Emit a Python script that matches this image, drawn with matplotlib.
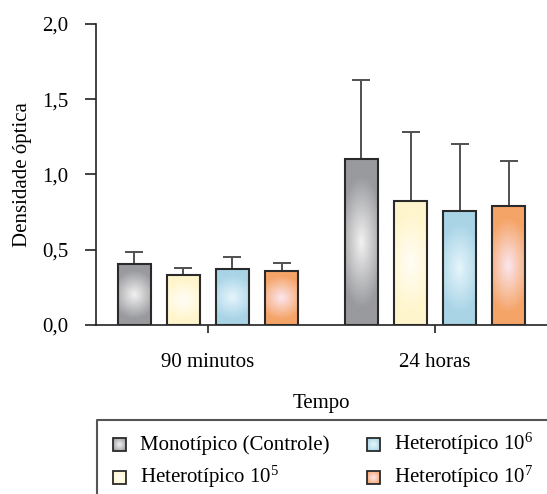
import numpy as np
import matplotlib
matplotlib.use("Agg")
import matplotlib.pyplot as plt
from matplotlib.colors import to_rgb
from matplotlib.patches import Rectangle

plt.rcParams['font.family'] = ['Liberation Serif', 'DejaVu Serif']
plt.rcParams['mathtext.fontset'] = 'custom'
plt.rcParams['mathtext.rm'] = 'Liberation Serif'

groups = ['90 minutos', '24 horas']
series = ['Monotípico (Controle)', r'Heterotípico $\mathregular{10^5}$',
          r'Heterotípico $\mathregular{10^6}$', r'Heterotípico $\mathregular{10^7}$']
monotipico = [0.405, 1.10]
hetero_1e5 = [0.33, 0.826]
hetero_1e6 = [0.37, 0.757]
hetero_1e7 = [0.36, 0.79]
err_monotipico = [0.08, 0.53]
err_hetero_1e5 = [0.05, 0.454]
err_hetero_1e6 = [0.08, 0.443]
err_hetero_1e7 = [0.05, 0.30]
yticks = [0.0, 0.5, 1.0, 1.5, 2.0]
ytick_labels = ['0,0', '0,5', '1,0', '1,5', '2,0']

means = [monotipico, hetero_1e5, hetero_1e6, hetero_1e7]
errs = [err_monotipico, err_hetero_1e5, err_hetero_1e6, err_hetero_1e7]
edge_cols = ['#999a9e', '#fff5cc', '#a8d4e6', '#f5a468']
center_cols = ['#f2f2f2', '#fffef6', '#e6f5fc', '#fbe6ee']

W, H = 547, 494
fig = plt.figure(figsize=(W/100, H/100), dpi=100)
ax = fig.add_axes([96/W, 1-325/H, (547-96)/W, (325-24)/H])

def grad_img(c_edge, c_center, nx=40, ny=100, rx=1.4, ry=0.8):
    xx = np.linspace(-1, 1, nx)
    yy = np.linspace(-1, 1, ny)
    X, Y = np.meshgrid(xx, yy)
    r = np.sqrt((X/rx)**2 + (Y/ry)**2)
    t = np.clip(r, 0, 1)
    ce = np.array(to_rgb(c_edge)); cc = np.array(to_rgb(c_center))
    return cc[None, None, :] * (1 - t[..., None]) + ce[None, None, :] * t[..., None]

x = np.arange(len(groups))
bw = 0.145
offsets = [-0.324, -0.108, 0.108, 0.324]
for i in range(len(series)):
    xs = x + offsets[i]
    bars = ax.bar(xs, means[i], bw, color='none', edgecolor='#2a2a2a', linewidth=1.5, zorder=3)
    for b in bars:
        bx, by = b.get_x(), b.get_y()
        bwid, bh = b.get_width(), b.get_height()
        img = grad_img(edge_cols[i], center_cols[i])
        im = ax.imshow(img, extent=[bx, bx+bwid, by, by+bh], aspect='auto', zorder=2, origin='lower')
        im.set_clip_path(b)
    ax.errorbar(xs, means[i], yerr=[np.zeros(len(groups)), errs[i]], fmt='none',
                ecolor='#505050', elinewidth=1.4, capsize=6.5, capthick=1.4, zorder=1)

ax.set_xlim(-0.493, 1.493)
ax.set_ylim(0, 2.0)
ax.set_yticks(yticks)
ax.set_yticklabels(ytick_labels)
ax.set_xticks(x)
ax.set_xticklabels(groups)
ax.spines['top'].set_visible(False)
ax.spines['right'].set_visible(False)
for s in ['left', 'bottom']:
    ax.spines[s].set_linewidth(1.2)
    ax.spines[s].set_color('#222222')
ax.tick_params(axis='y', length=8, width=1.2, labelsize=15, pad=12, color='#222222')
ax.tick_params(axis='x', length=6, width=1.2, labelsize=15, pad=14, color='#222222')
ax.set_ylabel('Densidade óptica', fontsize=15, labelpad=7)
ax.set_xlabel('Tempo', fontsize=15, labelpad=16)

# legend panel
lax = fig.add_axes([0, 0, 1, 1], facecolor='none')
lax.set_xlim(0, W)
lax.set_ylim(H, 0)
lax.axis('off')
lax.plot([97, 97, 547], [H+5, 420, 420], color='#555555', lw=1.5)
leg_pos = [(119, 444), (119, 477), (373, 444), (373, 477)]
for i in range(len(series)):
    sx, sy = leg_pos[i]
    s = 6.5
    rect = Rectangle((sx-s, sy-s), 2*s, 2*s, facecolor='none', edgecolor='#2a2a2a', lw=1.3, zorder=3)
    lax.add_patch(rect)
    im = lax.imshow(grad_img(edge_cols[i], center_cols[i], 20, 20, rx=1.3, ry=1.3),
                    extent=[sx-s, sx+s, sy+s, sy-s], aspect='auto', zorder=2)
    im.set_clip_path(rect)
    lax.text(sx + 21, sy + 6, series[i], fontsize=15, va='baseline', ha='left')
lax.set_xlim(0, W)
lax.set_ylim(H, 0)

fig.savefig('out.png', dpi=100)
